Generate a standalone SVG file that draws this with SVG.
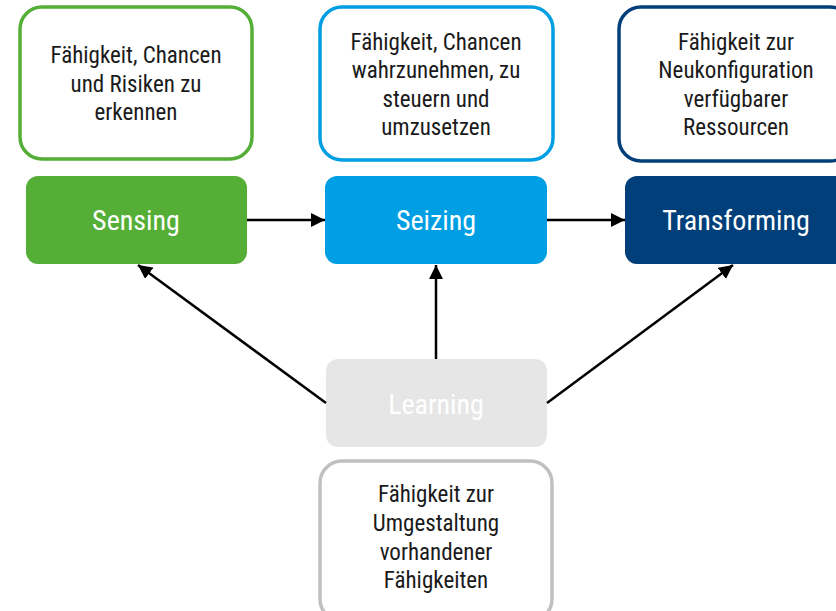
<svg xmlns="http://www.w3.org/2000/svg" width="836" height="611" viewBox="0 0 836 611">
<defs>
<marker id="ah" viewBox="0 0 14 14" refX="14" refY="7" markerWidth="14" markerHeight="14" markerUnits="userSpaceOnUse" orient="auto">
<path d="M0,0 L14,7 L0,14 Z" fill="#000"/>
</marker>
<style>
text{font-family:"Roboto Condensed",Roboto,"Liberation Sans",sans-serif;text-anchor:middle;font-stretch:condensed}
.d{font-size:23px;fill:#1a1a1a}
.l{font-size:28px;fill:#fff}
.desc{fill:#fff;stroke-width:3.5}
.c{stroke:#000;stroke-width:2.5;fill:none;marker-end:url(#ah)}
</style>
</defs>
<g id="desc-sensing">
<rect class="desc" x="20" y="7" width="232" height="152" rx="22" stroke="#55ae35"/>
<text class="d" x="136"><tspan x="136" y="63">Fähigkeit, Chancen</tspan><tspan x="136" y="92">und Risiken zu</tspan><tspan x="136" y="120">erkennen</tspan></text>
</g>
<g id="desc-seizing">
<rect class="desc" x="320" y="7" width="233" height="153" rx="22" stroke="#009fe3"/>
<text class="d" x="436"><tspan x="436" y="50">Fähigkeit, Chancen</tspan><tspan x="436" y="78">wahrzunehmen, zu</tspan><tspan x="436" y="107">steuern und</tspan><tspan x="436" y="135">umzusetzen</tspan></text>
</g>
<g id="desc-transforming">
<rect class="desc" x="619" y="7" width="233" height="154" rx="22" stroke="#003f7a"/>
<text class="d" x="736"><tspan x="736" y="50">Fähigkeit zur</tspan><tspan x="736" y="78">Neukonfiguration</tspan><tspan x="736" y="107">verfügbarer</tspan><tspan x="736" y="135">Ressourcen</tspan></text>
</g>
<g id="desc-learning">
<rect class="desc" x="320" y="461" width="232" height="160" rx="22" stroke="#c0c0c0"/>
<text class="d" x="436"><tspan x="436" y="502">Fähigkeit zur</tspan><tspan x="436" y="531">Umgestaltung</tspan><tspan x="436" y="560">vorhandener</tspan><tspan x="436" y="588">Fähigkeiten</tspan></text>
</g>
<g id="sensing">
<rect x="26" y="176" width="221" height="88" rx="12" fill="#55ae35"/>
<text class="l" x="136" y="230">Sensing</text>
</g>
<g id="seizing">
<rect x="325" y="176" width="222" height="88" rx="12" fill="#009fe3"/>
<text class="l" x="436" y="230">Seizing</text>
</g>
<g id="transforming">
<rect x="625" y="176" width="230" height="88" rx="12" fill="#003f7a"/>
<text class="l" x="736" y="230">Transforming</text>
</g>
<g id="learning">
<rect x="326" y="359" width="221" height="88" rx="12" fill="#e6e6e6"/>
<text class="l" x="436" y="414">Learning</text>
</g>
<g id="connectors">
<line class="c" x1="247" y1="220" x2="325" y2="220"/>
<line class="c" x1="547" y1="220" x2="625" y2="220"/>
<line class="c" x1="326" y1="403" x2="138" y2="265"/>
<line class="c" x1="436" y1="359" x2="436" y2="265"/>
<line class="c" x1="547" y1="403" x2="733" y2="265"/>
</g>
</svg>
